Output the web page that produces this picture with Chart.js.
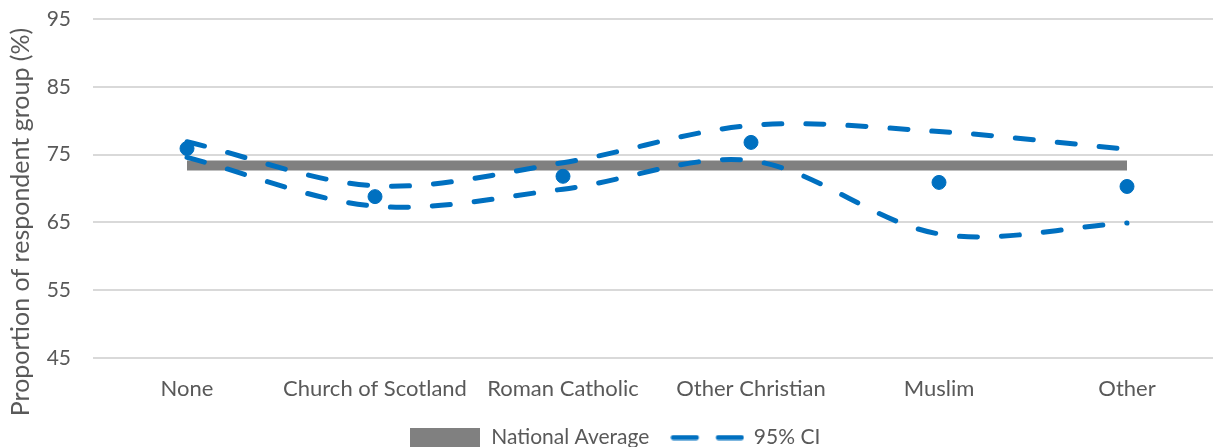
<!DOCTYPE html>
<html>
<head>
<meta charset="utf-8">
<script src="https://cdn.jsdelivr.net/npm/chart.js@4"></script>
<style>
  html, body { margin: 0; padding: 0; overflow: hidden; background: #fff; }
  #wrap { position: absolute; left: 0; top: 0; width: 1229px; height: 458px; }
  #chart { width: 1229px; height: 458px; }
</style>
</head>
<body>
<div id="wrap"><canvas id="chart" width="1229" height="458"></canvas></div>
<script>
// categories and values
let groups = ['None', 'Church of Scotland', 'Roman Catholic', 'Other Christian', 'Muslim', 'Other']
let groupMeans = [75.9, 68.8, 71.8, 76.8, 70.9, 70.3]
let ciUpper = [76.9, 70.4, 73.8, 79.3, 78.4, 75.8]
let ciLower = [74.6, 67.4, 69.9, 74.1, 63.3, 64.9]
let nationalAverage = 73.4
let yTicks = [45, 55, 65, 75, 85, 95]

let blue = '#0070C0'
let grey = '#808080'
let textGrey = '#595959'
let font = 'Lato'


// legend swatches drawn onto small canvases
function makeSwatch(w, h, draw) {
    let c = document.createElement('canvas')
    c.width = w
    c.height = h
    draw(c.getContext('2d'))
    return c
}

let avgSwatch = makeSwatch(70, 19, ctx => {
    ctx.fillStyle = grey
    ctx.fillRect(0, 0, 70, 19)
})

let ciSwatch = makeSwatch(74, 6, ctx => {
    ctx.strokeStyle = blue
    ctx.lineWidth = 5
    ctx.lineCap = 'round'
    ctx.beginPath()
    ctx.moveTo(3, 3)
    ctx.lineTo(26, 3)
    ctx.moveTo(48, 3)
    ctx.lineTo(71, 3)
    ctx.stroke()
})


// rotated y title, drawn beside the axis
let yTitle = {
    id: 'yTitle',
    afterDraw(chart) {
        let ctx = chart.ctx
        ctx.save()
        ctx.translate(21, 222)
        ctx.rotate(-Math.PI / 2)
        ctx.font = '25px ' + font
        ctx.fillStyle = textGrey
        ctx.textAlign = 'center'
        ctx.textBaseline = 'middle'
        ctx.fillText('Proportion of respondent group (%)', 0, 0)
        ctx.restore()
    }
}


let dashed = {
    borderColor: blue,
    borderWidth: 5,
    borderDash: [18, 24],
    borderCapStyle: 'round',
    pointRadius: 0,
    tension: 0.33,
    fill: false
}

let chart = new Chart(document.getElementById('chart'), {
    type: 'line',
    data: {
        labels: groups,
        datasets: [
            {
                label: 'National Average',
                data: groups.map(() => nationalAverage),
                borderColor: grey,
                backgroundColor: grey,
                borderWidth: 10,
                pointRadius: 0,
                pointStyle: avgSwatch,
                order: 4
            },
            Object.assign({ label: '95% CI', data: ciUpper, pointStyle: ciSwatch, order: 2 }, dashed),
            Object.assign({ label: '95% CI lower', data: ciLower, order: 3 }, dashed),
            {
                label: 'Mean',
                data: groupMeans,
                showLine: false,
                pointRadius: 7,
                pointHoverRadius: 7,
                pointBackgroundColor: blue,
                pointBorderColor: blue,
                order: 1
            }
        ]
    },
    options: {
        responsive: false,
        animation: false,
        devicePixelRatio: 1,
        layout: {
            padding: { top: 19, left: 0, right: 0, bottom: 0 }
        },
        scales: {
            x: {
                offset: true,
                grid: { display: false, drawTicks: false },
                border: { display: false },
                ticks: {
                    color: textGrey,
                    font: { family: font, size: 22 },
                    padding: 18,
                    maxRotation: 0,
                    autoSkip: false
                },
                afterFit: scale => {
                    scale.height = 47
                    scale.paddingLeft = 0
                    scale.paddingRight = 0
                }
            },
            y: {
                min: yTicks[0],
                max: yTicks[yTicks.length - 1],
                afterBuildTicks: scale => { scale.ticks = yTicks.map(v => ({ value: v })) },
                grid: { color: '#d9d9d9', lineWidth: 2, drawTicks: false },
                border: { display: false },
                ticks: {
                    color: textGrey,
                    font: { family: font, size: 21 },
                    padding: 22
                },
                afterFit: scale => {
                    scale.width = 93
                    scale.paddingTop = 0
                    scale.paddingBottom = 0
                }
            }
        },
        plugins: {
            legend: {
                position: 'bottom',
                labels: {
                    usePointStyle: true,
                    pointStyleWidth: 72,
                    color: textGrey,
                    font: { family: font, size: 21 },
                    padding: 22,
                    filter: item => item.datasetIndex < 2,
                    sort: (a, b) => a.datasetIndex - b.datasetIndex
                }
            },
            tooltip: { enabled: false }
        }
    },
    plugins: [yTitle]
})
</script>
</body>
</html>
